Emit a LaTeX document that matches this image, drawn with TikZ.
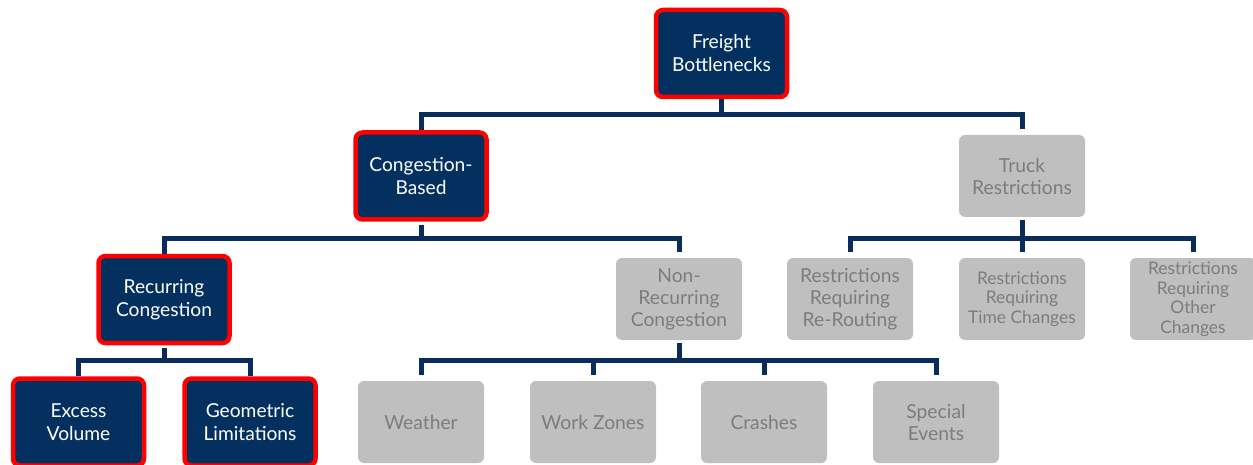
\documentclass[tikz,border=0pt]{standalone}
\usepackage{fontspec}
\setmainfont{Lato}
\definecolor{navy}{RGB}{3,48,95}
\definecolor{conncol}{RGB}{8,45,90}
\definecolor{redb}{RGB}{255,0,0}
\definecolor{grayfill}{RGB}{191,191,191}
\definecolor{graytext}{RGB}{125,125,125}
\tikzset{
 keybox/.style={draw=redb, line width=4.5pt, fill=navy, rounded corners=7pt, text=white, align=center,
   minimum width=131pt, minimum height=87pt, inner sep=0pt, font=\fontsize{19.2}{23}\selectfont},
 greybox/.style={fill=grayfill, rounded corners=6pt, text=graytext, align=center,
   minimum width=126pt, minimum height=82pt, inner sep=0pt, outer sep=0pt, font=\fontsize{19.3}{22}\selectfont},
 smallgrey/.style={greybox, font=\fontsize{17.4}{19.5}\selectfont},
 conn/.style={draw=conncol, line width=5pt},
}
\begin{document}
\begin{tikzpicture}[x=1pt,y=-1pt]
\useasboundingbox (0,0) rectangle (1253,465);
% nodes
\node[keybox] (fb) at (721.5,53.5) {Freight\\Bottlenecks};
\node[keybox] (cb) at (421,176) {Congestion-\\Based};
\node[greybox] (tr) at (1022,176) {Truck\\Restrictions};
\node[keybox] (rc) at (164,299.5) {Recurring\\Congestion};
\node[greybox] (nr) at (679,299) {Non-\\Recurring\\Congestion};
\node[greybox] (rr) at (850,299) {Restrictions\\Requiring\\Re-Routing};
\node[smallgrey] (rt) at (1022,299) {Restrictions\\Requiring\\Time Changes};
\node[smallgrey] (ro) at (1193,299) {Restrictions\\Requiring\\Other\\Changes};
\node[keybox] (ev) at (78.5,422) {Excess\\Volume};
\node[keybox] (gl) at (250,422) {Geometric\\Limitations};
\node[greybox] (we) at (421,422) {Weather};
\node[greybox] (wz) at (593,422) {Work Zones};
\node[greybox] (cr) at (764,422) {Crashes};
\node[greybox] (se) at (936,422) {Special\\Events};
% levels of connector bars
\coordinate (h1) at (0,114.5);
\coordinate (h2) at (0,238.5);
\coordinate (h3) at (0,360.5);
% Freight Bottlenecks
\draw[conn] (fb.south) -- (fb.south |- h1);
\draw[conn, shorten >=6pt] (cb.north) -- (h1 -| cb.north) -- (h1 -| tr.north) -- (tr.north);
% Congestion-Based
\draw[conn, shorten <=3pt] (cb.south) -- (cb.south |- h2);
\draw[conn, shorten >=6pt] (rc.north) -- (h2 -| rc.north) -- (h2 -| nr.north) -- (nr.north);
% Truck Restrictions
\draw[conn, shorten <=3pt] (tr.south) -- (tr.south |- h2);
\draw[conn, shorten <=6pt, shorten >=6pt] (rr.north) -- (h2 -| rr.north) -- (h2 -| ro.north) -- (ro.north);
\draw[conn, shorten >=6pt] (h2 -| rt.north) -- (rt.north);
% Recurring Congestion
\draw[conn, shorten <=3pt] (rc.south) -- (rc.south |- h3);
\draw[conn] (ev.north) -- (h3 -| ev.north) -- (h3 -| gl.north) -- (gl.north);
% Non-Recurring Congestion
\draw[conn, shorten <=3pt] (nr.south) -- (nr.south |- h3);
\draw[conn, shorten <=6pt, shorten >=6pt] (we.north) -- (h3 -| we.north) -- (h3 -| se.north) -- (se.north);
\draw[conn, shorten >=6pt] (h3 -| wz.north) -- (wz.north);
\draw[conn, shorten >=6pt] (h3 -| cr.north) -- (cr.north);
\end{tikzpicture}
\end{document}
